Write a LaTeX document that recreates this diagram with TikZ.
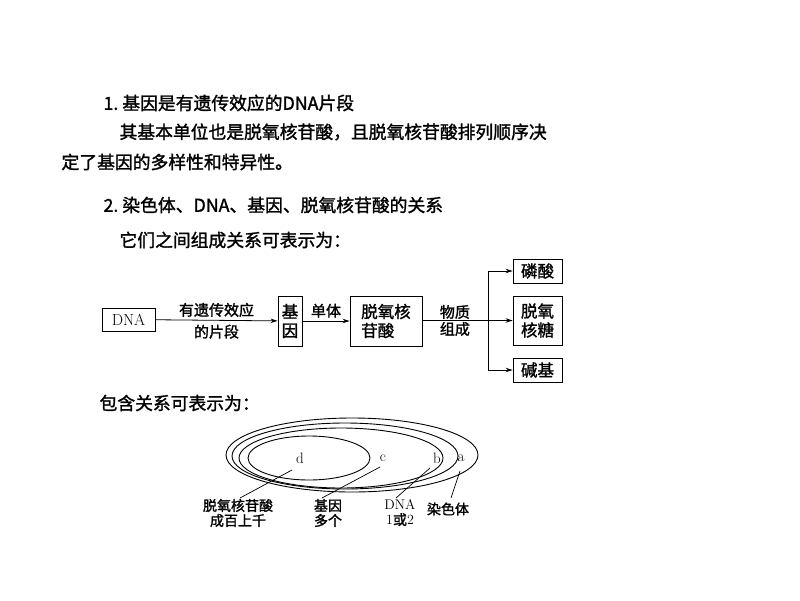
\documentclass[tikz,border=0pt]{standalone}
\usepackage{fontspec}
\newfontfamily\cjk[FakeBold=1.5]{Noto Sans CJK SC}
\usetikzlibrary{arrows.meta}
\begin{document}
\begin{tikzpicture}[x=1pt,y=-1pt,
  every node/.style={font=\cjk},
  txt/.style={anchor=west,font=\cjk\fontsize{17.8}{20}\selectfont},
  bx/.style={draw,line width=0.9pt,font=\cjk\fontsize{16.5}{19}\selectfont,inner sep=0pt,align=center},
  lbl/.style={font=\cjk\fontsize{15}{17}\selectfont,align=center,inner sep=0pt},
  arr/.style={-{Stealth[length=7pt,width=4.5pt]},line width=0.8pt},
  ell/.style={line width=0.9pt},
  ln/.style={line width=0.7pt}]
\useasboundingbox (0,0) rectangle (800,600);
\node[txt] (t1) at (100,103) {1.\ 基因是有遗传效应的DNA片段};
\node[txt] (t2) at (116,132) {其基本单位也是脱氧核苷酸，且脱氧核苷酸排列顺序决};
\node[txt] (t3) at (58,162) {定了基因的多样性和特异性。};
\node[txt] (t4) at (100,205) {2.\ 染色体、DNA、基因、脱氧核苷酸的关系};
\node[txt] (t5) at (116,240) {它们之间组成关系可表示为：};
\node[txt] (t6) at (96,403) {包含关系可表示为：};
% flow
\node[bx,minimum width=53,minimum height=23,font=\rmfamily\fontsize{16}{18}\selectfont] (dna) at (128.5,319.5) {DNA};
\node[bx,minimum width=24,minimum height=50] (jy) at (290,321) {基\\因};
\node[bx,minimum width=72,minimum height=50,align=left] (tq) at (386,321) {脱氧核\\苷酸};
\node[bx,minimum width=49,minimum height=24] (ls) at (537.5,271) {磷酸};
\node[bx,minimum width=49,minimum height=49] (th) at (537.5,320.5) {脱氧\\核糖};
\node[bx,minimum width=49,minimum height=24] (jj) at (537.5,370) {碱基};
\draw[arr] (dna) -- node[lbl,above=3pt] {有遗传效应} node[lbl,below=4pt] {的片段} (jy);
\draw[arr] (jy) -- node[lbl,above=3pt] {单体} (jy -| tq.west);
\draw[arr] (tq.east |- th) -- node[lbl,pos=0.36] (wz) {物质\\组成} (th);
\coordinate (bt) at (488,271);
\coordinate (bb) at (488,370);
\draw[ln,line width=0.8pt] (bt) -- (bb);
\draw[arr] (bt) -- (ls);
\draw[arr] (bb) -- (jj);
% ellipses
\draw[ell] (352,455) ellipse [x radius=126,y radius=37];
\draw[ell] (345,456) ellipse [x radius=113,y radius=33];
\draw[ell] (341,458) ellipse [x radius=102,y radius=30];
\draw[ell] (309,458) ellipse [x radius=61,y radius=22];
\node[font=\rmfamily\fontsize{15}{17}\selectfont] (ld) at (300,458) {d};
\node[font=\rmfamily\fontsize{15}{17}\selectfont] (lc) at (383,458) {c};
\node[font=\rmfamily\fontsize{15}{17}\selectfont] (lb) at (437,458) {b};
\node[font=\rmfamily\fontsize{15}{17}\selectfont] (la) at (461,458) {a};
\node[lbl,font=\cjk\fontsize{14}{15}\selectfont] (nd) at (238,513) {脱氧核苷酸\\成百上千};
\node[lbl,font=\cjk\fontsize{14}{15}\selectfont] (nc) at (328,513) {基因\\多个};
\node[lbl,font=\rmfamily\fontsize{14}{15}\selectfont] (nb) at (400,513) {DNA\\1{\cjk 或}2};
\node[lbl,font=\cjk\fontsize{14}{15}\selectfont] (na) at (448,509) {染色体};
\coordinate (pd) at (292,470);
\coordinate (pc) at (380,467);
\coordinate (pb) at (430,468);
\coordinate (pa) at (460,471);
\draw[ln] (pd) -- (240,498);
\draw[ln] (pc) -- (322,498);
\draw[ln] (pb) -- (396,498);
\draw[ln] (pa) -- (451,498);
\end{tikzpicture}
\end{document}
